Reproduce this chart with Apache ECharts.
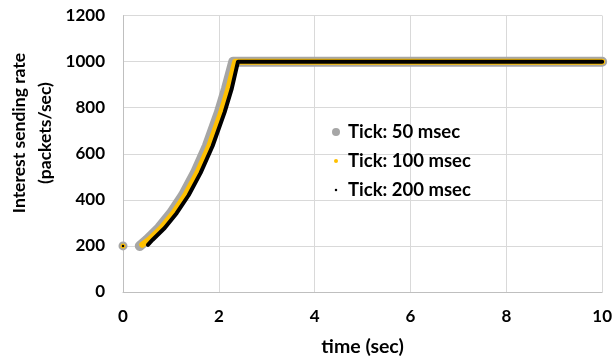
<!DOCTYPE html>
<html>
<head>
<meta charset="utf-8">
<script src="https://cdn.jsdelivr.net/npm/echarts@6/dist/echarts.min.js"></script>
<style>
  html, body { margin: 0; padding: 0; background: #fff; }
  #chart { width: 615px; height: 362px; }
</style>
</head>
<body>
<div id="chart"></div>
<script>
// first sample of every run sits alone at t = 0
const startTime = [0];
const startRate = [200];

// Tick: 50 msec
const times50 = [0.35, 0.5, 0.75, 1.0, 1.25, 1.5, 1.75, 2.0, 2.15, 2.3, 2.35, 10];
const rates50 = [200, 227, 278, 342, 420, 517, 634, 780, 883, 1000, 1000, 1000];

// Tick: 100 msec
const times100 = [0.4, 0.55, 0.8, 1.05, 1.3, 1.55, 1.8, 2.05, 2.2, 2.34, 2.38, 10];
const rates100 = [205, 228, 278, 342, 420, 517, 634, 780, 883, 1000, 1000, 1000];

// Tick: 200 msec
const times200 = [0.52, 0.62, 0.87, 1.12, 1.37, 1.62, 1.87, 2.12, 2.27, 2.4, 2.44, 10];
const rates200 = [205, 227, 278, 342, 420, 517, 634, 780, 883, 1000, 1000, 1000];

const xTicks = [0, 2, 4, 6, 8, 10];
const yTicks = [0, 200, 400, 600, 800, 1000, 1200];

const FONT = 'Lato, "Liberation Sans", sans-serif';
const pairs = (xs, ys) => xs.map((x, i) => [x, ys[i]]);

const runs = [
  { name: 'Tick: 50 msec', times: times50, rates: rates50, color: '#a6a6a6', width: 10, dot: 9, icon: 8 },
  { name: 'Tick: 100 msec', times: times100, rates: rates100, color: '#ffc000', width: 6, dot: 5, icon: 4 },
  { name: 'Tick: 200 msec', times: times200, rates: rates200, color: '#000000', width: 4, dot: 2.5, icon: 2.5 }
];

const series = [];
runs.forEach((r) => {
  series.push({
    name: r.name,
    type: 'line',
    data: pairs(r.times, r.rates),
    showSymbol: false,
    clip: false,
    lineStyle: { color: r.color, width: r.width, cap: 'round', join: 'round' },
    itemStyle: { color: r.color },
    emphasis: { disabled: true }
  });
  series.push({
    name: r.name,
    type: 'scatter',
    data: pairs(startTime, startRate),
    symbolSize: r.dot,
    itemStyle: { color: r.color, opacity: 1 },
    clip: false
  });
});

const legends = runs.map((r, i) => ({
  data: [{ name: r.name, icon: 'circle' }],
  left: 331 - r.icon / 2,
  top: 117.5 + i * 29,
  itemWidth: r.icon,
  itemHeight: r.icon,
  itemGap: 0,
  textStyle: { fontFamily: FONT, fontWeight: 'bold', fontSize: 18.5, color: '#000', padding: [0, 0, 0, 7 - r.icon / 2] }
}));

const myChart = echarts.init(document.getElementById('chart'));
const option = {
  animation: false,
  backgroundColor: '#fff',
  legend: legends,
  grid: { left: 123, right: 10, top: 15.6, bottom: 68 },
  graphic: [{
    type: 'text',
    x: 32,
    y: 133,
    rotation: Math.PI / 2,
    style: {
      text: 'Interest sending rate\n(packets/sec)',
      fontFamily: FONT,
      fontWeight: 'bold',
      fontSize: 17.5,
      lineHeight: 26,
      fill: '#000',
      align: 'center',
      verticalAlign: 'middle'
    }
  }],
  xAxis: {
    type: 'value',
    min: 0,
    max: 10,
    interval: 2,
    name: 'time (sec)',
    nameLocation: 'middle',
    nameGap: 45,
    nameTextStyle: { fontFamily: FONT, fontWeight: 'bold', fontSize: 19.5, color: '#000' },
    axisLine: { lineStyle: { color: '#bfbfbf' } },
    axisTick: { show: false },
    axisLabel: { fontFamily: FONT, fontWeight: 'bold', fontSize: 17, color: '#000', margin: 16,
      formatter: (v) => (xTicks.includes(v) ? String(v) : '') },
    splitLine: { show: true, lineStyle: { color: '#d9d9d9' } }
  },
  yAxis: {
    type: 'value',
    min: 0,
    max: 1200,
    interval: 200,
    axisLine: { show: true, lineStyle: { color: '#bfbfbf' } },
    axisTick: { show: false },
    axisLabel: { fontFamily: FONT, fontWeight: 'bold', fontSize: 17, color: '#000', margin: 18,
      formatter: (v) => (yTicks.includes(v) ? String(v) : '') },
    splitLine: { show: true, lineStyle: { color: '#d9d9d9' } }
  },
  series: series
};
myChart.setOption(option);
</script>
</body>
</html>
